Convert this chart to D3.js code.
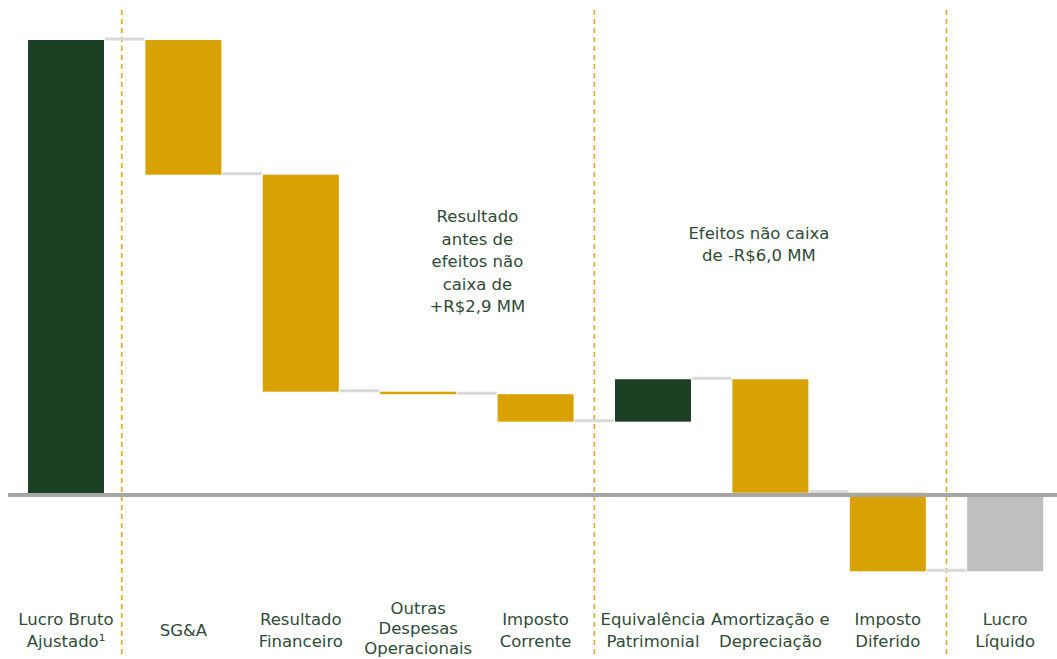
<!DOCTYPE html>
<html>
<head>
<meta charset="utf-8">
<script src="https://cdn.jsdelivr.net/npm/d3@7/dist/d3.min.js"></script>
<style>
  html, body { margin: 0; padding: 0; background: #ffffff; }
  svg { display: block; }
  text { font-family: "DejaVu Sans", sans-serif; fill: #2e4b34; }
</style>
</head>
<body>
<svg id="chart" width="1057" height="659"></svg>
<script>
// ---- Data ----
const categories = [
  ["Lucro Bruto", "Ajustado¹"],
  ["SG&A"],
  ["Resultado", "Financeiro"],
  ["Outras", "Despesas", "Operacionais"],
  ["Imposto", "Corrente"],
  ["Equivalência", "Patrimonial"],
  ["Amortização e", "Depreciação"],
  ["Imposto", "Diferido"],
  ["Lucro", "Líquido"]
];
const values = [18.2, -5.4, -8.7, -0.1, -1.1, 1.7, -4.55, -3.15, -3.1];
const kinds = ["total", "delta", "delta", "delta", "delta", "delta", "delta", "delta", "result"];
const separatorsAfter = [0, 4, 7];
const annotationLines1 = ["Resultado", "antes de", "efeitos não", "caixa de", "+R$2,9 MM"];
const annotationLines2 = ["Efeitos não caixa", "de -R$6,0 MM"];

// ---- Build waterfall ----
let cum = 0;
const bars = values.map((v, i) => {
  let start, end;
  if (kinds[i] === "total" || kinds[i] === "result") { start = 0; end = v; cum = v; }
  else { start = cum; end = cum + v; cum = end; }
  return { i, start, end, v, kind: kinds[i] };
});

const svg = d3.select("#chart");
const keys = categories.map((c, i) => i);
const x = d3.scaleBand().domain(keys).range([7.3, 1063.9]).paddingInner(0.3526).paddingOuter(0.1763);
const y = d3.scaleLinear().domain([0, 18.2]).range([494, 40]);

const colors = { pos: "#1b4024", neg: "#d8a205", result: "#bfbfbf" };

// separators
separatorsAfter.forEach((i, k) => {
  const xr = x(i) + x.bandwidth();
  const xl = x(i + 1);
  const xm = (xr + xl) / 2 - (k === 0 ? 3 : 0);
  svg.append("line")
    .attr("x1", xm).attr("x2", xm)
    .attr("y1", 10).attr("y2", 656)
    .attr("stroke", "#e0a81c")
    .attr("stroke-width", 1.6)
    .attr("stroke-dasharray", "5,4");
});

// connectors
bars.forEach((b, i) => {
  if (i === bars.length - 1) return;
  const level = b.end;
  svg.append("line")
    .attr("x1", x(i) + x.bandwidth() + 1)
    .attr("x2", x(i + 1) - 1)
    .attr("y1", y(level) - 1).attr("y2", y(level) - 1)
    .attr("stroke", "#d9d9d9")
    .attr("stroke-width", 3);
});

// bars
svg.selectAll("rect.bar").data(bars).enter().append("rect")
  .attr("class", "bar")
  .attr("x", d => x(d.i))
  .attr("width", x.bandwidth())
  .attr("y", d => y(Math.max(d.start, d.end)))
  .attr("height", d => Math.abs(y(d.start) - y(d.end)))
  .attr("fill", d => d.kind === "result" ? colors.result : (d.kind === "total" ? colors.pos : (d.v >= 0 ? colors.pos : colors.neg)));

// zero line
svg.append("line")
  .attr("x1", 8).attr("x2", 1057)
  .attr("y1", y(0) + 1).attr("y2", y(0) + 1)
  .attr("stroke", "#a6a6a6")
  .attr("stroke-width", 4);

// category labels
categories.forEach((lines, i) => {
  const cx = x(i) + x.bandwidth() / 2;
  const n = lines.length;
  const lh = n > 2 ? 20 : 21.3;
  const mid = n > 2 ? 633.5 : 636;
  const t = svg.append("text")
    .attr("text-anchor", "middle")
    .attr("font-size", 16.5);
  lines.forEach((ln, j) => {
    t.append("tspan")
      .attr("x", cx)
      .attr("y", mid + (j - (n - 1) / 2) * lh)
      .text(ln);
  });
});

// annotations
const ann1 = svg.append("text").attr("text-anchor", "middle").attr("font-size", 16.5);
annotationLines1.forEach((ln, j) => {
  ann1.append("tspan").attr("x", x(3) + x.bandwidth() + (x(4) - x(3) - x.bandwidth()) / 2 + 0.5).attr("y", 222 + j * 22.5).text(ln);
});
const ann2 = svg.append("text").attr("text-anchor", "middle").attr("font-size", 16.5);
annotationLines2.forEach((ln, j) => {
  ann2.append("tspan").attr("x", x(6) + x.bandwidth() / 2 - 11.5).attr("y", 238.5 + j * 22.5).text(ln);
});
</script>
</body>
</html>
